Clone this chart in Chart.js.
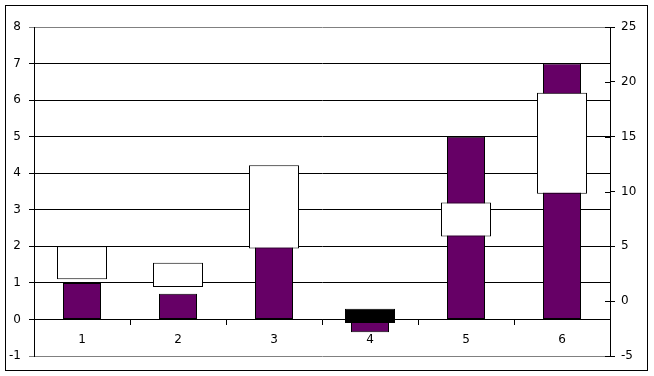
<!DOCTYPE html>
<html>
<head>
<meta charset="utf-8">
<script src="https://cdn.jsdelivr.net/npm/chart.js@4"></script>
<style>
  html, body { margin: 0; padding: 0; background: #fff; }
  #wrap { width: 654px; height: 376px; }
</style>
</head>
<body>
<div id="wrap"><canvas id="chart"></canvas></div>
<script>
// categories + series
const labels = ['1', '2', '3', '4', '5', '6'];
const columnValues = [1.0, 0.7, 2.0, -0.35, 5.0, 7.0];      // left axis
const openValues = [2.0, 1.3, 4.8, -0.7, 5.9, 9.8];          // right axis
const closeValues = [5.0, 3.5, 12.4, -2.0, 9.0, 19.0];       // right axis

// up/down boxes as floating bars
const boxData = openValues.map((o, i) => [o, closeValues[i]]);

// frame around whole picture + inner half of right axis ticks
const framePlugin = {
  id: 'frame',
  afterDraw(chart) {
    const c = chart.ctx;
    c.save();
    c.strokeStyle = '#000';
    c.lineWidth = 1;
    c.strokeRect(5.5, 5.5, 642, 365);
    const y1 = chart.scales.y1;
    c.beginPath();
    y1.ticks.forEach(t => {
      const py = Math.round(y1.getPixelForValue(t.value)) + 0.5;
      c.moveTo(y1.left - 5, py);
      c.lineTo(y1.left, py);
    });
    c.stroke();
    c.restore();
  }
};

Chart.defaults.font.family = '"DejaVu Sans", sans-serif';
Chart.defaults.font.size = 12;
Chart.defaults.color = '#000';

new Chart(document.getElementById('chart'), {
  type: 'bar',
  data: {
    labels: labels,
    datasets: [
      {
        label: 'up-down',
        data: boxData,
        yAxisID: 'y1',
        grouped: false,
        categoryPercentage: 1,
        barPercentage: 50 / 96,
        backgroundColor: ctx => closeValues[ctx.dataIndex] >= openValues[ctx.dataIndex] ? '#ffffff' : '#000000',
        borderColor: '#000',
        borderWidth: 1,
        borderSkipped: false,
      },
      {
        label: 'values',
        data: columnValues,
        yAxisID: 'y',
        grouped: false,
        categoryPercentage: 1,
        barPercentage: 38 / 96,
        backgroundColor: '#660066',
        borderColor: '#000',
        borderWidth: 1,
        borderSkipped: false,
      },
    ],
  },
  options: {
    responsive: true,
    maintainAspectRatio: false,
    animation: false,
    layout: { padding: { top: 27, bottom: 20 } },
    plugins: {
      legend: { display: false },
      tooltip: { enabled: false },
    },
    scales: {
      x: {
        position: { y: 0 },
        offset: true,
        grid: {
          offset: true,
          drawOnChartArea: false,
          drawTicks: true,
          tickLength: 5,
          color: '#000',
        },
        border: { color: '#000' },
        ticks: { padding: 8 },
      },
      y: {
        position: 'left',
        min: -1,
        max: 8,
        ticks: { stepSize: 1, padding: 8 },
        grid: {
          color: ctx => (ctx.tick && (ctx.tick.value === 8 || ctx.tick.value === -1)) ? '#808080' : '#000',
          tickLength: 5,
        },
        border: { color: '#000' },
        afterFit: s => { s.width = 34; },
      },
      y1: {
        position: 'right',
        min: -5,
        max: 25,
        ticks: { stepSize: 5, padding: 6 },
        grid: { drawOnChartArea: false, tickLength: 5, color: '#000' },
        border: { color: '#000' },
        afterFit: s => { s.width = 44; },
      },
    },
  },
  plugins: [framePlugin],
});
</script>
</body>
</html>
